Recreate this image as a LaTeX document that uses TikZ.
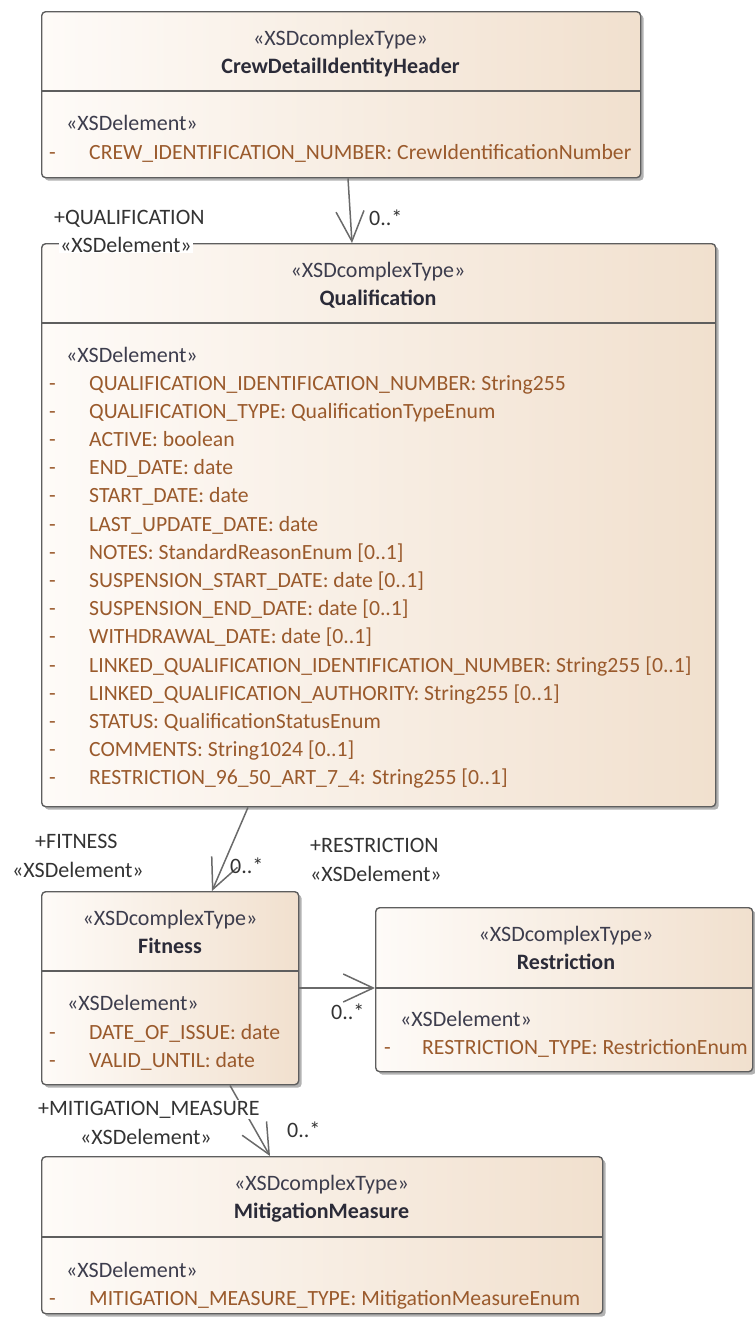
\documentclass[tikz,border=0pt]{standalone}
\usepackage{fontspec}
\setmainfont{Carlito}
\usetikzlibrary{arrows.meta,shadows}

\definecolor{edgegray}{HTML}{5E5E5E}
\definecolor{linkgray}{HTML}{6A6A6A}
\definecolor{shadeL}{HTML}{FEFBF8}
\definecolor{shadeR}{HTML}{F1E0CE}
\definecolor{attrbrown}{HTML}{9A5A2C}
\definecolor{stereocol}{HTML}{3D3D4D}
\definecolor{namecol}{HTML}{2B2B38}
\definecolor{rolecol}{HTML}{333333}

\tikzset{
  umlfont/.style={font=\fontsize{22}{26}\selectfont},
  attrfont/.style={font=\fontsize{21.7}{26}\selectfont},
  classbox/.style={draw=edgegray, line width=1.4pt, rounded corners=4pt,
    left color=shadeL, right color=shadeR, inner sep=0pt, anchor=north west,
    drop shadow={shadow xshift=3pt, shadow yshift=-3pt, opacity=0.3, fill=black}},
  divider/.style={draw=edgegray, line width=1.4pt},
  stereo/.style={umlfont, text=stereocol, anchor=base, inner sep=0pt},
  clsname/.style={umlfont, text=namecol, font=\fontsize{22}{26}\selectfont\bfseries, anchor=base, inner sep=0pt},
  elemtag/.style={umlfont, text=stereocol, anchor=base west, inner sep=0pt},
  attr/.style={attrfont, text=attrbrown, anchor=base west, inner sep=0pt},
  vis/.style={attrfont, text=attrbrown, anchor=base west, inner sep=0pt},
  role/.style={umlfont, text=rolecol, anchor=base west, inner sep=1pt},
  rolebg/.style={role, fill=white},
  assoc/.style={draw=linkgray, line width=1.5pt,
    -{Straight Barb[length=30pt, width=28pt, line width=1.5pt]}},
}

\begin{document}
\begin{tikzpicture}[x=1pt, y=-1pt]
\useasboundingbox (0,0) rectangle (755,1320);

% ---- class boxes ----
\node[classbox, minimum width=599pt, minimum height=166pt] (crew) at (41,11) {};
\node[classbox, minimum width=674pt, minimum height=563pt] (qual) at (41,243) {};
\node[classbox, minimum width=257pt, minimum height=193pt] (fit) at (41,891) {};
\node[classbox, minimum width=377pt, minimum height=164pt] (restr) at (375,907) {};
\node[classbox, minimum width=561pt, minimum height=157pt] (mit) at (41,1156) {};

% ---- compartment dividers ----
\draw[divider] ([yshift=-80pt]crew.north west) -- ([yshift=-80pt]crew.north east);
\draw[divider] ([yshift=-80pt]qual.north west) -- ([yshift=-80pt]qual.north east);
\draw[divider] ([yshift=-80pt]fit.north west) -- ([yshift=-80pt]fit.north east);
\draw[divider] ([yshift=-81pt]restr.north west) -- ([yshift=-81pt]restr.north east);
\draw[divider] ([yshift=-81pt]mit.north west) -- ([yshift=-81pt]mit.north east);

% ---- CrewDetailIdentityHeader ----
\node[stereo] (crew-st) at (340.5,45) {«XSDcomplexType»};
\node[clsname] (crew-nm) at (340.5,73) {CrewDetailIdentityHeader};
\node[elemtag] (crew-el) at (66,130) {«XSDelement»};
\node[vis] (crew-d1) at (49,159) {-};
\node[attr] (crew-a1) at (89,159) {CREW\_IDENTIFICATION\_NUMBER: CrewIdentificationNumber};

% ---- Qualification ----
\node[stereo] (qual-st) at (378,277) {«XSDcomplexType»};
\node[clsname] (qual-nm) at (378,305) {Qualification};
\node[elemtag] (qual-el) at (66,362) {«XSDelement»};
\foreach \t [count=\i] in {
  {QUALIFICATION\_IDENTIFICATION\_NUMBER: String255},
  {QUALIFICATION\_TYPE: QualificationTypeEnum},
  {ACTIVE: boolean},
  {END\_DATE: date},
  {START\_DATE: date},
  {LAST\_UPDATE\_DATE: date},
  {NOTES: StandardReasonEnum [0..1]},
  {SUSPENSION\_START\_DATE: date [0..1]},
  {SUSPENSION\_END\_DATE: date [0..1]},
  {WITHDRAWAL\_DATE: date [0..1]},
  {LINKED\_QUALIFICATION\_IDENTIFICATION\_NUMBER: String255 [0..1]},
  {LINKED\_QUALIFICATION\_AUTHORITY: String255 [0..1]},
  {STATUS: QualificationStatusEnum},
  {COMMENTS: String1024 [0..1]},
  {RESTRICTION\_96\_50\_ART\_7\_4: String255 [0..1]}}
{
  \node[vis] (qual-d\i) at (49,{390+28.2*(\i-1)}) {-};
  \node[attr] (qual-a\i) at (89,{390+28.2*(\i-1)}) {\t};
}

% ---- Fitness ----
\node[stereo] (fit-st) at (170,925) {«XSDcomplexType»};
\node[clsname] (fit-nm) at (170,953) {Fitness};
\node[elemtag] (fit-el) at (67,1010) {«XSDelement»};
\node[vis] (fit-d1) at (49,1039) {-};
\node[attr] (fit-a1) at (89,1039) {DATE\_OF\_ISSUE: date};
\node[vis] (fit-d2) at (49,1067) {-};
\node[attr] (fit-a2) at (89,1067) {VALID\_UNTIL: date};

% ---- Restriction ----
\node[stereo] (restr-st) at (566,941) {«XSDcomplexType»};
\node[clsname] (restr-nm) at (566,969) {Restriction};
\node[elemtag] (restr-el) at (400,1026) {«XSDelement»};
\node[vis] (restr-d1) at (384,1054) {-};
\node[attr] (restr-a1) at (422,1054) {RESTRICTION\_TYPE: RestrictionEnum};

% ---- MitigationMeasure ----
\node[stereo] (mit-st) at (321.5,1190) {«XSDcomplexType»};
\node[clsname] (mit-nm) at (321.5,1218) {MitigationMeasure};
\node[elemtag] (mit-el) at (66,1277) {«XSDelement»};
\node[vis] (mit-d1) at (49,1305) {-};
\node[attr] (mit-a1) at (89,1305) {MITIGATION\_MEASURE\_TYPE: MitigationMeasureEnum};

% ---- associations ----
\draw[assoc] ([xshift=307pt]crew.south west) -- ([xshift=311pt]qual.north west);
\draw[assoc] ([xshift=207pt]qual.south west) -- ([xshift=171pt]fit.north west);
\draw[assoc] ([yshift=-97pt]fit.north east) -- ([yshift=-81pt]restr.north west);
\draw[assoc] ([xshift=189pt]fit.south west) -- ([xshift=229pt]mit.north west);

% ---- role names and multiplicities ----
\node[role] (r-qual) at (53,224) {+QUALIFICATION};
\node[rolebg] (r-qual-st) at (59,252) {«XSDelement»};
\node[role] (m-qual) at (368,225) {0..*};

\node[role] (r-fit) at (34,848) {+FITNESS};
\node[role] (r-fit-st) at (11,877) {«XSDelement»};
\node[role] (m-fit) at (229,873) {0..*};

\node[role] (r-restr) at (309,852) {+RESTRICTION};
\node[role] (r-restr-st) at (309,881) {«XSDelement»};
\node[role] (m-restr) at (330,1019) {0..*};

\node[rolebg] (r-mit) at (37,1115) {+MITIGATION\_MEASURE};
\node[role] (r-mit-st) at (79,1144) {«XSDelement»};
\node[role] (m-mit) at (286,1137) {0..*};
\end{tikzpicture}
\end{document}
